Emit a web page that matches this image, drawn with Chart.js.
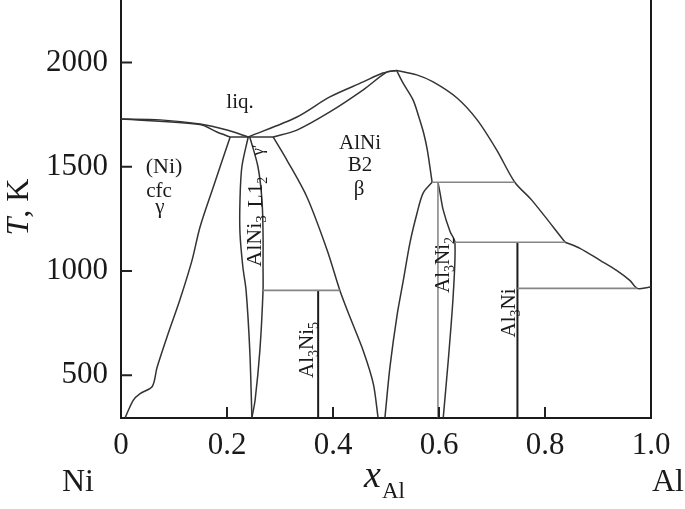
<!DOCTYPE html>
<html>
<head>
<meta charset="utf-8">
<script src="https://cdn.jsdelivr.net/npm/chart.js@4.4.1/dist/chart.umd.min.js"></script>
<style>
  html, body { margin: 0; padding: 0; background: #fff; }
  canvas { display: block; }
</style>
</head>
<body>
<canvas id="phase" width="685" height="509"></canvas>
<script>
// Axis ticks
const xTicks = [0, 0.2, 0.4, 0.6, 0.8, 1.0];
const yTicks = [500, 1000, 1500, 2000];

// Phase boundaries, [x_Al, T in K]
const liquidusNi = [[0, 1729], [0.074, 1725], [0.149, 1705], [0.2, 1676], [0.24, 1643]];
const solidusNi = [[0, 1729], [0.149, 1703], [0.181, 1667], [0.206, 1643]];
const gammaSolvus = [[0.206, 1643], [0.174, 1402], [0.149, 1210], [0.134, 1051], [0.111, 861],
  [0.089, 700], [0.068, 537], [0.059, 446], [0.036, 412], [0.023, 380], [0.008, 297]];
const gammaPrimeLeft = [[0.24, 1643], [0.228, 1499], [0.2245, 1340], [0.2245, 1181], [0.23, 1018],
  [0.236, 907], [0.243, 618], [0.247, 297]];
const gammaPrimeRight = [[0.243, 1643], [0.2585, 1499], [0.266, 1340], [0.268, 1181], [0.268, 1018],
  [0.268, 907], [0.262, 618], [0.253, 380], [0.247, 297]];
const eutecticTie = [[0.206, 1643], [0.287, 1643]];
const liquidusBetaL = [[0.24, 1643], [0.332, 1739], [0.394, 1835], [0.457, 1907], [0.494, 1950], [0.52, 1962]];
const solidusBetaL = [[0.287, 1643], [0.332, 1676], [0.394, 1763], [0.457, 1869], [0.502, 1955], [0.52, 1962]];
const betaLeft = [[0.287, 1643], [0.313, 1532], [0.351, 1354], [0.389, 1100], [0.413, 907],
  [0.432, 779], [0.457, 618], [0.476, 460], [0.485, 297]];
const betaRightUpper = [[0.52, 1962], [0.532, 1902], [0.551, 1821], [0.562, 1739], [0.571, 1662],
  [0.578, 1580], [0.587, 1426]];
const betaRightLower = [[0.587, 1426], [0.57, 1374], [0.5585, 1277], [0.545, 1133], [0.533, 960],
  [0.521, 790], [0.5075, 540], [0.498, 297]];
const liquidusAl = [[0.52, 1962], [0.558, 1941], [0.589, 1907], [0.634, 1830], [0.672, 1725],
  [0.709, 1580], [0.743, 1426], [0.775, 1340], [0.838, 1138]];
const liquidusAlLow = [[0.838, 1138], [0.866, 1109], [0.904, 1051], [0.935, 1003], [0.96, 955],
  [0.974, 917], [0.994, 921], [1.0, 924]];
const al3ni2Right = [[0.598, 1426], [0.602, 1374], [0.608, 1292], [0.621, 1188], [0.63, 1140],
  [0.627, 892], [0.6175, 572], [0.608, 297]];

// Horizontal (invariant) lines
const tie907 = [[0.268, 907], [0.413, 907]];
const tie1426 = [[0.587, 1426], [0.743, 1426]];
const tie1138 = [[0.63, 1138], [0.838, 1138]];
const tie917 = [[0.748, 917], [0.974, 917]];

// Stoichiometric compounds
const al3ni5Line = [[0.372, 907], [0.372, 297]];
const al3ni2Left = [[0.598, 1426], [0.598, 297]];
const al3niLine = [[0.748, 1138], [0.748, 297]];

const serif = '"Liberation Serif", "Times New Roman", serif';

function line(arr, kind) {
  const styles = {
    curve: { color: '#333', width: 1.5, tension: 0.3 },
    tie: { color: '#858585', width: 1.6, tension: 0 },
    grey: { color: '#8a8a8a', width: 1.6, tension: 0 },
    comp: { color: '#1c1c1c', width: 2, tension: 0 }
  };
  const s = styles[kind];
  return {
    data: arr.map(([x, y]) => ({ x: x, y: y })),
    showLine: true,
    pointRadius: 0,
    borderColor: s.color,
    borderWidth: s.width,
    tension: s.tension,
    fill: false
  };
}

const datasets = [
  line(tie907, 'tie'), line(tie1426, 'tie'), line(tie1138, 'tie'), line(tie917, 'tie'),
  line(al3ni2Left, 'grey'),
  line(liquidusNi, 'curve'), line(solidusNi, 'curve'), line(gammaSolvus, 'curve'),
  line(gammaPrimeLeft, 'curve'), line(gammaPrimeRight, 'curve'), line(eutecticTie, 'curve'),
  line(liquidusBetaL, 'curve'), line(solidusBetaL, 'curve'), line(betaLeft, 'curve'),
  line(betaRightUpper, 'curve'), line(betaRightLower, 'curve'),
  line(liquidusAl, 'curve'), line(liquidusAlLow, 'curve'), line(al3ni2Right, 'curve'),
  line(al3ni5Line, 'comp'), line(al3niLine, 'comp')
];

// draws text made of pieces: [text, style] where style is '', 'it' or 'sub'
function drawRich(ctx, parts, cx, cy, size, rot) {
  ctx.save();
  ctx.translate(cx, cy);
  ctx.rotate(rot || 0);
  ctx.fillStyle = '#1a1a1a';
  ctx.textBaseline = 'alphabetic';
  ctx.textAlign = 'left';
  const fontFor = (st) => (st === 'it' ? 'italic ' : '') + (st === 'sub' ? Math.round(size * 0.68) : size) + 'px ' + serif;
  let total = 0;
  parts.forEach(([t, st]) => { ctx.font = fontFor(st); total += ctx.measureText(t).width; });
  let x = -total / 2;
  const base = size * 0.33;
  parts.forEach(([t, st]) => {
    ctx.font = fontFor(st);
    ctx.fillText(t, x, st === 'sub' ? base + size * 0.22 : base);
    x += ctx.measureText(t).width;
  });
  ctx.restore();
}

const decorations = {
  id: 'decorations',
  afterDraw(chart) {
    const ctx = chart.ctx;
    const xs = chart.scales.x, ys = chart.scales.y;
    const area = chart.chartArea;

    // inward tick marks
    ctx.save();
    ctx.strokeStyle = '#222';
    ctx.lineWidth = 2;
    ctx.beginPath();
    yTicks.forEach(v => {
      const py = ys.getPixelForValue(v);
      ctx.moveTo(area.left, py);
      ctx.lineTo(area.left + 11, py);
    });
    xTicks.filter(v => v > 0 && v < 1).forEach(v => {
      const px = xs.getPixelForValue(v);
      ctx.moveTo(px, area.bottom);
      ctx.lineTo(px, area.bottom - 11);
    });
    ctx.stroke();
    ctx.restore();

    // axis titles
    const up = -Math.PI / 2;
    drawRich(ctx, [['T', 'it'], [', K', '']], 17, 207, 32, up);
    ctx.save();
    ctx.fillStyle = '#1a1a1a';
    ctx.font = '32px ' + serif;
    ctx.textBaseline = 'alphabetic';
    ctx.textAlign = 'center';
    ctx.fillText('Ni', 78, 491);
    ctx.textAlign = 'left';
    ctx.fillText('Al', 652, 491);
    ctx.font = 'italic 38px ' + serif;
    ctx.fillText('x', 364, 487);
    ctx.font = '23px ' + serif;
    ctx.fillText('Al', 382, 498);
    ctx.restore();

    // phase labels
    const f = 21;
    drawRich(ctx, [['liq.', '']], 240, 101, f);
    drawRich(ctx, [['(Ni)', '']], 164, 166, 22);
    drawRich(ctx, [['cfc', '']], 159, 190, f);
    drawRich(ctx, [['γ', '']], 160, 206, f);
    drawRich(ctx, [['AlNi', '']], 360, 142, f);
    drawRich(ctx, [['B2', '']], 360, 164, f);
    drawRich(ctx, [['β', '']], 359, 188, f);

    drawRich(ctx, [['AlNi', ''], ['3', 'sub']], 254, 241, 22, up);
    drawRich(ctx, [['L1', ''], ['2', 'sub']], 255, 192, f, up);
    drawRich(ctx, [['γ′', '']], 257, 150, 17, up);
    drawRich(ctx, [['Al', ''], ['3', 'sub'], ['Ni', ''], ['5', 'sub']], 306, 350, f, up);
    drawRich(ctx, [['Al', ''], ['3', 'sub'], ['Ni', ''], ['2', 'sub']], 442, 265, f, up);
    drawRich(ctx, [['Al', ''], ['3', 'sub'], ['Ni', '']], 508, 313, f, up);
  }
};

// keep the plot area pinned: no extra room for half-labels
const noPad = s => {
  s.paddingTop = 0; s.paddingBottom = 0; s.paddingLeft = 0; s.paddingRight = 0;
};

new Chart(document.getElementById('phase').getContext('2d'), {
  type: 'scatter',
  data: { datasets: datasets },
  options: {
    responsive: false,
    animation: false,
    devicePixelRatio: 1,
    layout: { padding: 0 },
    plugins: {
      legend: { display: false },
      tooltip: { enabled: false }
    },
    scales: {
      x: {
        type: 'linear',
        min: 0,
        max: 1,
        afterBuildTicks: s => { s.ticks = xTicks.map(v => ({ value: v })); },
        afterFit: s => { s.height = 91; noPad(s); },
        grid: { display: false, drawTicks: false },
        border: { display: true, color: '#1a1a1a', width: 2 },
        ticks: {
          padding: 9,
          color: '#1a1a1a',
          font: { family: serif, size: 31 },
          maxRotation: 0,
          callback: v => (v === 0 ? '0' : v.toFixed(1))
        }
      },
      y: {
        type: 'linear',
        position: 'left',
        min: 295,
        max: 2300,
        afterBuildTicks: s => { s.ticks = yTicks.map(v => ({ value: v })); },
        afterFit: s => { s.width = 121; noPad(s); },
        grid: { display: false, drawTicks: false },
        border: { display: true, color: '#1a1a1a', width: 2 },
        ticks: {
          padding: 13,
          color: '#1a1a1a',
          font: { family: serif, size: 31 },
          callback: v => String(v)
        }
      },
      yRight: {
        type: 'linear',
        position: 'right',
        min: 295,
        max: 2300,
        afterFit: s => { s.width = 34; noPad(s); },
        grid: { display: false, drawTicks: false },
        border: { display: true, color: '#1a1a1a', width: 2 },
        ticks: { display: false }
      }
    }
  },
  plugins: [decorations]
});
</script>
</body>
</html>
